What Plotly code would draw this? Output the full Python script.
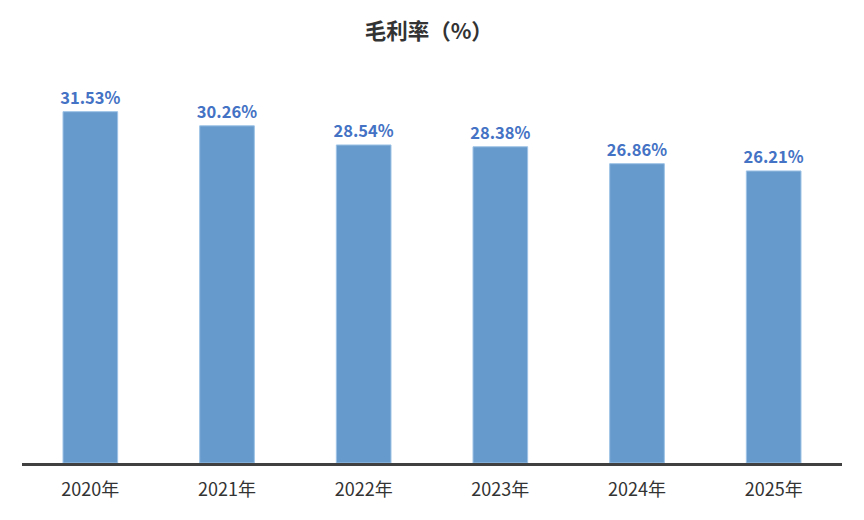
import plotly.graph_objects as go

categories = ["2020年", "2021年", "2022年", "2023年", "2024年", "2025年"]
values = [31.53, 30.26, 28.54, 28.38, 26.86, 26.21]
labels = ["31.53%", "30.26%", "28.54%", "28.38%", "26.86%", "26.21%"]

FONT = "Noto Sans CJK SC, sans-serif"

fig = go.Figure(go.Bar(
    x=categories, y=values,
    text=labels, textposition="outside", cliponaxis=False,
    constraintext="none",
    textfont=dict(family=FONT, size=16.5, color="#4472C4", weight="bold"),
    marker=dict(color="#6699CC", line=dict(color="#9DC3E6", width=1)),
    width=0.4,
))

fig.update_layout(
    width=864, height=520,
    margin=dict(l=14, r=30, t=65, b=65),
    paper_bgcolor="white", plot_bgcolor="white",
    title=dict(text="<b>毛利率（%）</b>", x=0.487, xanchor="center", y=0.955, yanchor="middle",
               font=dict(family=FONT, size=21.5, color="#333333")),
    showlegend=False,
    xaxis=dict(showline=True, linecolor="#404040", linewidth=2.5, ticks="",
               ticklabelstandoff=9,
               tickfont=dict(family=FONT, size=18, color="#333333"), showgrid=False),
    yaxis=dict(range=[0, 35], visible=False, showgrid=False),
)

fig.write_html("out.html")
